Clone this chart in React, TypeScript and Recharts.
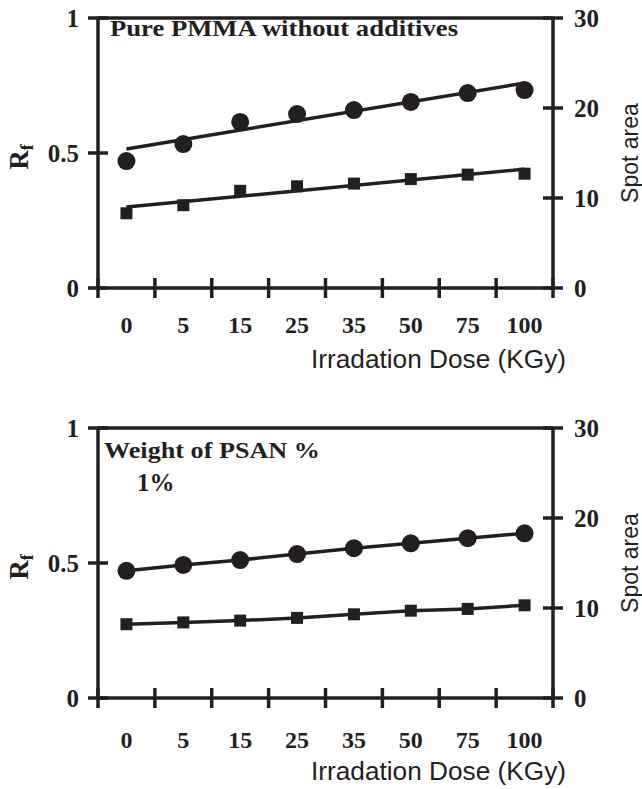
import React from 'react';
import { ComposedChart, Line, Scatter, XAxis, YAxis, ReferenceLine, Label } from 'recharts';

const doses = ['0', '5', '15', '25', '35', '50', '75', '100'];
const rfTicks = [0, 0.5, 1];
const spotTicks = [0, 10, 20, 30];

// top panel - pure PMMA, markers scatter round a fitted straight line
const pureRf = [0.47, 0.533, 0.615, 0.644, 0.659, 0.689, 0.722, 0.733];
const pureSpot = [8.3, 9.2, 10.8, 11.3, 11.6, 12.1, 12.6, 12.7];
const pureRfFit = [0.515, 0.759];
const pureSpotFit = [9.0, 13.2];

// bottom panel - 1 % PSAN
const psanRf = [0.471, 0.493, 0.511, 0.533, 0.555, 0.573, 0.592, 0.61];
const psanSpot = [8.2, 8.4, 8.6, 8.9, 9.3, 9.7, 9.9, 10.3];

const SERIF = '"Liberation Serif", "Times New Roman", serif';
const SANS = '"Liberation Sans", Arial, sans-serif';
const INK = '#231f20';

const edges = doses.map((_, i) => i).concat(doses.length);
const centres = doses.map((_, i) => i + 0.5);

const rowsOf = (rf: number[], spot: number[]) =>
  doses.map((d, i) => ({ pos: i + 0.5, dose: d, rf: rf[i], spot: spot[i] }));

const fitRows = (rf: number[], spot: number[]) => [
  { pos: 0.5, rf: rf[0], spot: spot[0] },
  { pos: doses.length - 0.5, rf: rf[1], spot: spot[1] },
];

const Circle = (p: any) => <circle cx={p.cx} cy={p.cy} r={9} fill={INK} />;
const Square = (p: any) => <rect x={p.cx - 6} y={p.cy - 6} width={12} height={12} fill={INK} />;

const XMark = (p: any) => (
  <line x1={p.x} x2={p.x} y1={p.y - 10} y2={p.y + 10} stroke={INK} strokeWidth={3.5} />
);

const YMark = ({ x, y, payload, side }: any) => (
  <g>
    <line x1={x - 10} x2={x + 10} y1={y} y2={y} stroke={INK} strokeWidth={3.5} />
    <text
      x={side === 'left' ? x - 19 : x + 21}
      y={y + 9}
      textAnchor={side === 'left' ? 'end' : 'start'}
      fontFamily={SERIF}
      fontWeight="bold"
      fontSize={25}
      fill={INK}
    >
      {payload.value}
    </text>
  </g>
);

type PanelProps = {
  rf: number[];
  spot: number[];
  rfFit?: number[];
  spotFit?: number[];
  height: number;
  plotTop: number;
  labelGap: number;
  titleGap: number;
  titles: { text: string; dx: number; dy: number; size: number; len?: number }[];
};

const Panel = ({ rf, spot, rfFit, spotFit, height, plotTop, labelGap, titleGap, titles }: PanelProps) => {
  const rows = rowsOf(rf, spot);
  const fit = rfFit && spotFit ? fitRows(rfFit, spotFit) : null;
  return (
    <ComposedChart width={642} height={height} data={rows} margin={{ top: plotTop, right: 0, left: 0, bottom: 0 }}>
      <XAxis
        xAxisId="b"
        dataKey="pos"
        type="number"
        domain={[0, doses.length]}
        ticks={centres}
        interval={0}
        height={height - plotTop - 270 - 10}
        tickSize={0}
        tickMargin={0}
        axisLine={false}
        tick={(p: any) => (
          <text x={p.x} y={p.y + labelGap} textAnchor="middle" fontFamily={SERIF} fontWeight="bold" fontSize={24} fill={INK}>
            {doses[Math.round(p.payload.value - 0.5)]}
          </text>
        )}
      >
        <Label
          content={({ viewBox }: any) => (
            <text
              x={viewBox.x + viewBox.width + 13}
              y={viewBox.y + titleGap}
              textAnchor="end"
              fontFamily={SANS}
              fontSize={25}
              textLength={255}
              lengthAdjust="spacingAndGlyphs"
              fill={INK}
            >
              Irradation Dose (KGy)
            </text>
          )}
        />
      </XAxis>
      <XAxis
        xAxisId="a"
        dataKey="pos"
        type="number"
        domain={[0, doses.length]}
        ticks={edges}
        interval={0}
        height={10}
        tickSize={0}
        tickMargin={0}
        axisLine={{ stroke: INK, strokeWidth: 3.5 }}
        tick={(p: any) => <XMark x={p.x} y={p.y} />}
      />
      <YAxis
        yAxisId="rf"
        orientation="left"
        width={98}
        domain={[0, 1]}
        ticks={rfTicks}
        interval={0}
        tickSize={0}
        tickMargin={0}
        axisLine={{ stroke: INK, strokeWidth: 3.5 }}
        tick={(p: any) => <YMark x={p.x} y={p.y} payload={p.payload} side="left" />}
      >
        <Label
          content={({ viewBox }: any) => {
            const cy = viewBox.y + viewBox.height / 2 + 4;
            return (
              <g>
                <text
                  x={28}
                  y={cy}
                  transform={`rotate(-90 28 ${cy})`}
                  textAnchor="middle"
                  fontFamily={SERIF}
                  fontWeight="bold"
                  fontSize={27}
                  fill={INK}
                >
                  R<tspan fontSize={18} dy={5}>f</tspan>
                </text>
                {titles.map((t) => (
                  <text
                    key={t.text}
                    x={viewBox.x + viewBox.width + t.dx}
                    y={viewBox.y + t.dy}
                    fontFamily={SERIF}
                    fontWeight="bold"
                    fontSize={t.size}
                    textLength={t.len}
                    lengthAdjust="spacingAndGlyphs"
                    fill={INK}
                  >
                    {t.text}
                  </text>
                ))}
              </g>
            );
          }}
        />
      </YAxis>
      <YAxis
        yAxisId="spot"
        orientation="right"
        width={89}
        domain={[0, 30]}
        ticks={spotTicks}
        interval={0}
        tickSize={0}
        tickMargin={0}
        axisLine={{ stroke: INK, strokeWidth: 3.5 }}
        tick={(p: any) => <YMark x={p.x} y={p.y} payload={p.payload} side="right" />}
      >
        <Label
          content={({ viewBox }: any) => {
            const cx = viewBox.x + 85;
            const cy = viewBox.y + viewBox.height / 2;
            return (
              <text
                x={cx}
                y={cy}
                transform={`rotate(-90 ${cx} ${cy})`}
                textAnchor="middle"
                fontFamily={SANS}
                fontSize={23}
                fill={INK}
              >
                Spot area
              </text>
            );
          }}
        />
      </YAxis>
      <ReferenceLine xAxisId="a" yAxisId="rf" y={1} stroke={INK} strokeWidth={3.5} />
      {fit ? (
        <Line xAxisId="a" yAxisId="rf" data={fit} dataKey="rf" type="linear" stroke={INK} strokeWidth={3.5} dot={false} isAnimationActive={false} />
      ) : (
        <Line xAxisId="a" yAxisId="rf" dataKey="rf" type="linear" stroke={INK} strokeWidth={3.5} dot={false} isAnimationActive={false} />
      )}
      {fit ? (
        <Line xAxisId="a" yAxisId="spot" data={fit} dataKey="spot" type="linear" stroke={INK} strokeWidth={3.5} dot={false} isAnimationActive={false} />
      ) : (
        <Line xAxisId="a" yAxisId="spot" dataKey="spot" type="linear" stroke={INK} strokeWidth={3.5} dot={false} isAnimationActive={false} />
      )}
      <Scatter xAxisId="a" yAxisId="rf" dataKey="rf" shape={Circle} isAnimationActive={false} />
      <Scatter xAxisId="a" yAxisId="spot" dataKey="spot" shape={Square} isAnimationActive={false} />
    </ComposedChart>
  );
};

const App = () => (
  <div style={{ position: 'relative', width: 642, height: 789, background: '#fff' }}>
    <style>{'body{margin:0;background:#fff}'}</style>
    <div style={{ position: 'absolute', left: 0, top: 0 }}>
      <Panel
        rf={pureRf}
        spot={pureSpot}
        rfFit={pureRfFit}
        spotFit={pureSpotFit}
        height={395}
        plotTop={18}
        labelGap={35}
        titleGap={70}
        titles={[{ text: 'Pure PMMA without additives', dx: 12, dy: 18, size: 23, len: 348 }]}
      />
    </div>
    <div style={{ position: 'absolute', left: 0, top: 395 }}>
      <Panel
        rf={psanRf}
        spot={psanSpot}
        height={394}
        plotTop={33}
        labelGap={40}
        titleGap={72}
        titles={[
          { text: 'Weight of PSAN %', dx: 6, dy: 30, size: 23, len: 216 },
          { text: '1%', dx: 39, dy: 63, size: 25 },
        ]}
      />
    </div>
  </div>
);

export default App;
